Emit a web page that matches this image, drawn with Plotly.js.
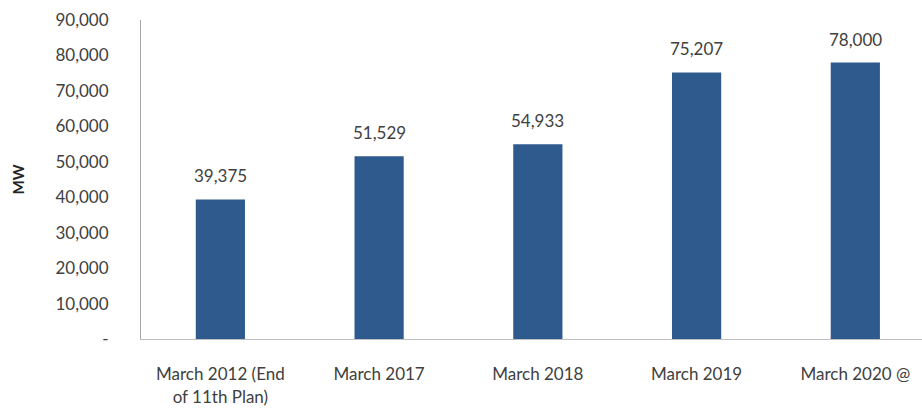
<!DOCTYPE html>
<html><head><meta charset="utf-8">
<script src="https://cdn.plot.ly/plotly-3.0.1.min.js"></script>
<style>body{margin:0;background:#fff}#chart{width:922px;height:408px}</style>
</head><body><div id="chart"></div>
<script>
const categories = ["March 2012 (End<br>of 11th Plan)", "March 2017", "March 2018", "March 2019", "March 2020 @"];
const values = [39375, 51529, 54933, 75207, 78000];
const labels = ["39,375", "51,529", "54,933", "75,207", "78,000"];
const tickVals = [0, 10000, 20000, 30000, 40000, 50000, 60000, 70000, 80000, 90000];
const tickText = ["-", "10,000", "20,000", "30,000", "40,000", "50,000", "60,000", "70,000", "80,000", "90,000"];

const font = "Lato, Open Sans, sans-serif";
const xs = values.map((v, i) => i);
Plotly.newPlot("chart", [{
  type: "bar",
  x: xs,
  y: values,
  width: 0.31,
  marker: {color: "#2F5A8E"},
  hoverinfo: "none"
}], {
  width: 922, height: 408,
  margin: {l: 141, r: 0, t: 20, b: 69},
  paper_bgcolor: "#fff", plot_bgcolor: "#fff",
  showlegend: false,
  annotations: values.map((v, i) => ({
    x: xs[i], y: v, text: labels[i], showarrow: false,
    xanchor: "center", yanchor: "bottom", yshift: 11,
    font: {family: font, size: 17, color: "#404040"}
  })),
  xaxis: {
    range: [-0.5, 4.42],
    tickvals: xs,
    ticktext: categories,
    tickfont: {family: font, size: 17, color: "#404040"},
    showgrid: false, zeroline: false,
    showline: true, linecolor: "#bfbfbf", linewidth: 1,
    ticks: "", ticklabelstandoff: 20
  },
  yaxis: {
    range: [0, 90000],
    tickvals: tickVals,
    ticktext: tickText,
    tickfont: {family: font, size: 17, color: "#404040"},
    showgrid: false, zeroline: false,
    showline: true, linecolor: "#a6a6a6", linewidth: 1,
    ticks: "", ticklabelstandoff: 28,
    title: {text: "<b>MW</b>", font: {family: font, size: 15, color: "#262626"}, standoff: 27}
  }
}, {staticPlot: true});
</script></body></html>
